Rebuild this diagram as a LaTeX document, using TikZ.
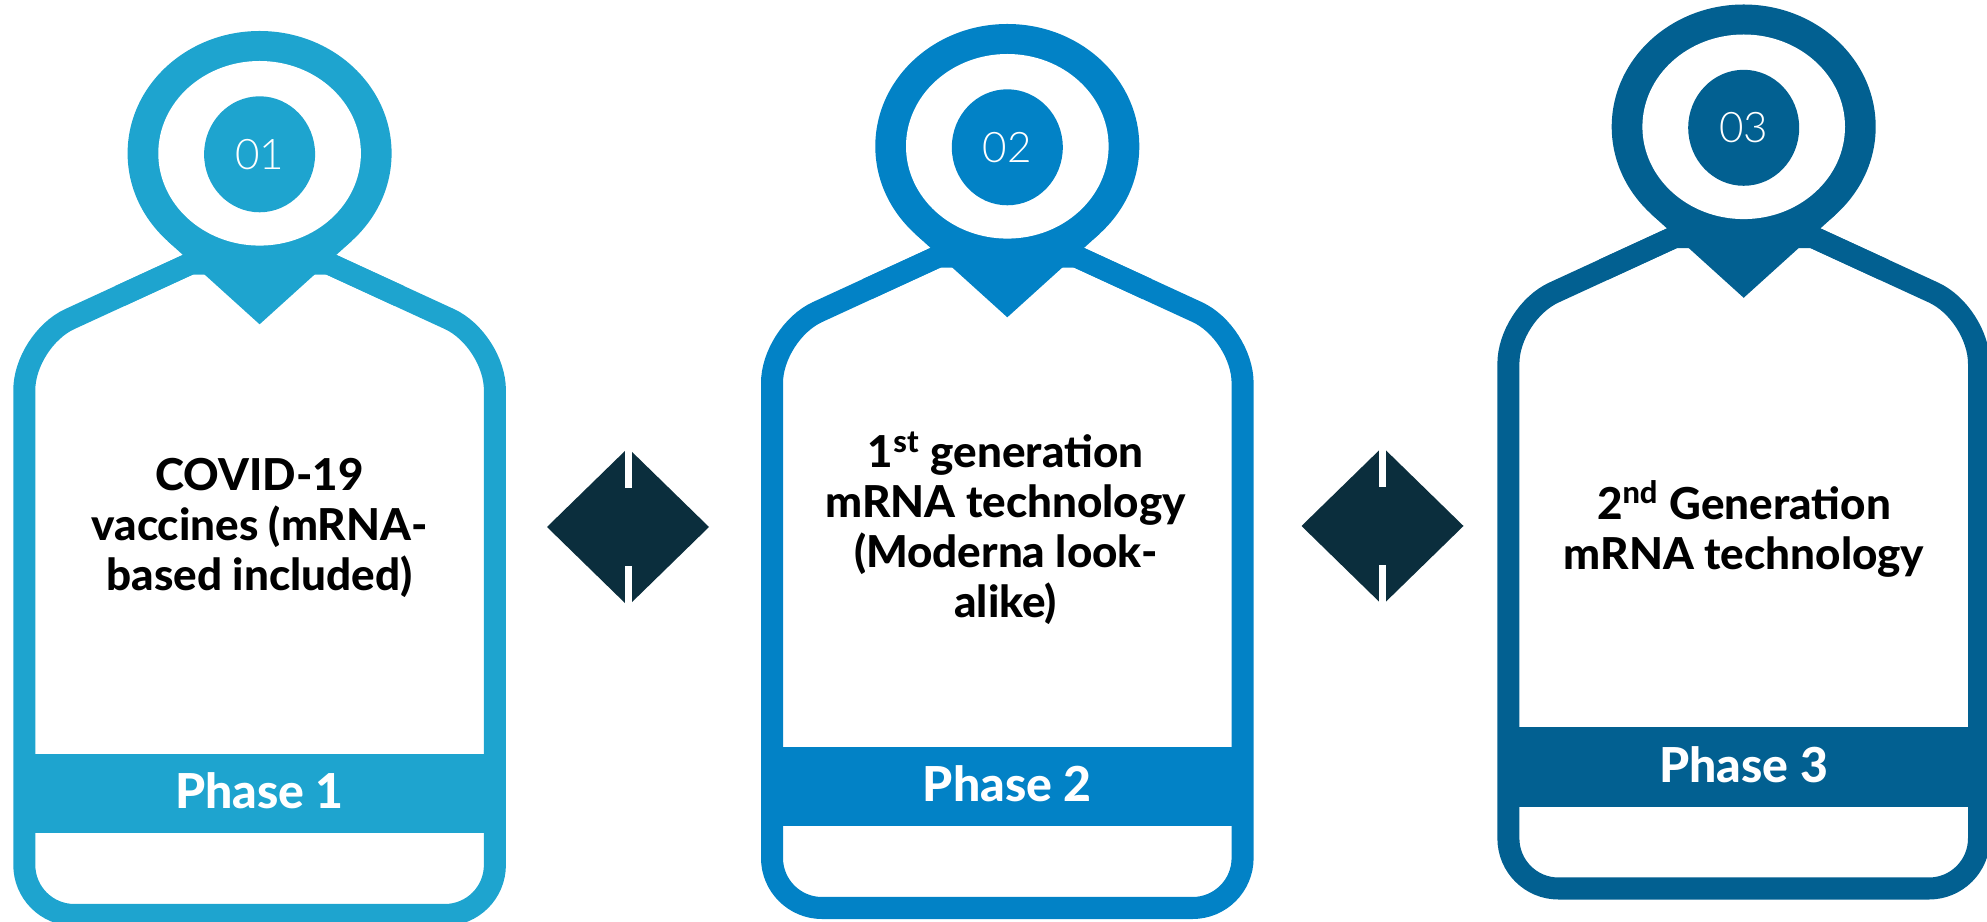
\documentclass[tikz,border=0pt]{standalone}
\usepackage{fontspec}
\setmainfont{Lato}
\IfFontExistsTF{Lato Heavy}{\newfontfamily\cardfont{Lato Heavy}}{\def\cardfont{\bfseries}}
\IfFontExistsTF{Lato Light}{\newfontfamily\numfont{Lato Light}}{\def\numfont{}}
\usepackage{xcolor}
\usetikzlibrary{calc,positioning}
\definecolor{phaseA}{RGB}{30,164,207}
\definecolor{phaseB}{RGB}{2,130,198}
\definecolor{phaseC}{RGB}{2,96,145}
\definecolor{stepink}{RGB}{11,46,61}
\tikzset{
   card line/.style={line width=.22cm},
   card text/.style={font=\cardfont\fontsize{12.5}{14.2}\selectfont, align=center, inner sep=0pt},
   phase label/.style={font=\cardfont\fontsize{13.7}{16}\selectfont, text=white, inner sep=0pt, anchor=base},
   num label/.style={font=\numfont\fontsize{12}{13}\selectfont, text=white, inner sep=0pt},
   phase card/.pic={%the colour comes from the options of \pic
      \draw[card line, rounded corners=.5cm] (69.5,256.7) -- (235.3,333) -- (235.3,908)
         -- (-235.3,908) -- (-235.3,333) -- (-69.5,256.7);
      \draw[card line, miter limit=20] (-140,289.1) -- (-69.5,256.7) -- (69.5,256.7) -- (140,289.1);
      \fill (-235.3,747) rectangle (235.3,826.3);
      \node[phase label] (-phase) at (0,802) {Phase #1};
      \fill (0,146.3) ellipse [x radius=132, y radius=122.3];
      \fill (-92.3,233.8) -- (0,317.3) -- (92.3,233.8) -- cycle;
      \fill[white] (0,146.3) ellipse [x radius=101.3, y radius=92.3];
      \fill (0,147.3) ellipse [x radius=55.5, y radius=58];
      \node[num label] (-num) at (0,147.3) {0#1};
   },
   step mark/.pic={
      \fill[stepink] (-81,0) coordinate (-w) -- (0,-79) -- (81,0) coordinate (-e) -- (0,79) -- cycle;
      \fill[white] (-3.5,-83) rectangle (3.5,-39);
      \fill[white] (-3.5,39) rectangle (3.5,83);
   }
}

\begin{document}
\begin{tikzpicture}[x=.01cm, y=-.01cm]
  \useasboundingbox (0,0) rectangle (1987,922);
  \pic[color=phaseA] (c1) at (259.6,7) {phase card=1};
  \pic[color=phaseB] (c2) at (1007.3,0) {phase card=2};
  \pic[color=phaseC] (c3) at (1743.7,-19.5) {phase card=3};
  \pic (s1) at (628,527) {step mark};
  \pic (s2) at (1382.5,526) {step mark};
  \node[card text] (t1) at (259.6,528) {COVID-19\\vaccines (mRNA-\\based included)};
  \node[card text] (t2) at (1005.7,528) {1\textsuperscript{st} generation\\mRNA technology\\(Moderna look-\\alike)};
  \node[card text] (t3) at (1744,529) {2\textsuperscript{nd} Generation\\mRNA technology};
\end{tikzpicture}
\end{document}
